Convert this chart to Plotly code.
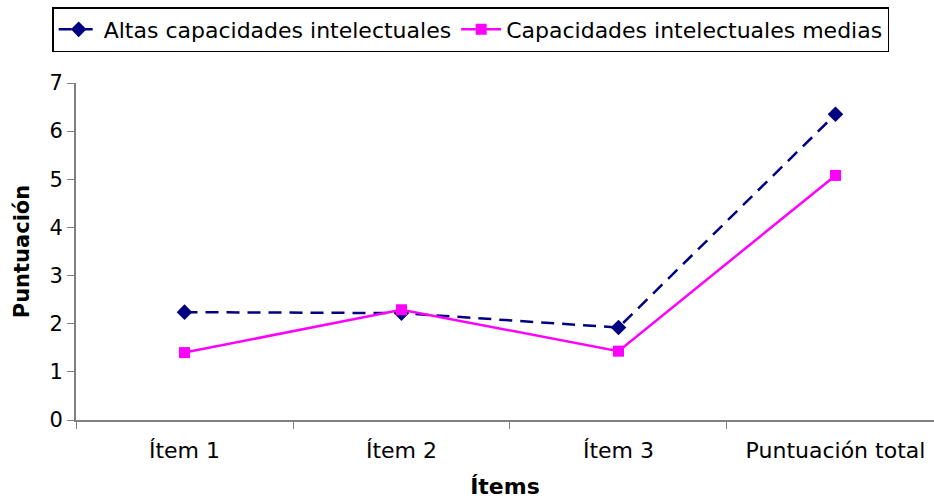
import plotly.graph_objects as go

categories = ["Ítem 1", "Ítem 2", "Ítem 3", "Puntuación total"]
altas = [2.24, 2.22, 1.92, 6.35]
medias = [1.40, 2.29, 1.43, 5.08]

FONT = "Verdana, DejaVu Sans, sans-serif"

fig = go.Figure()
fig.add_trace(go.Scatter(
    x=categories, y=altas, name="Altas capacidades intelectuales",
    mode="lines+markers",
    line=dict(color="#000080", width=2.5, dash="13px,8px"),
    marker=dict(symbol="diamond", size=12, color="#000080"),
))
fig.add_trace(go.Scatter(
    x=categories, y=medias, name="Capacidades intelectuales medias",
    mode="lines+markers",
    line=dict(color="#FF00FF", width=2.5),
    marker=dict(symbol="square", size=11, color="#FF00FF"),
))

fig.update_layout(
    width=934, height=502,
    margin=dict(l=76, r=0, t=83, b=82, autoexpand=False),
    plot_bgcolor="white", paper_bgcolor="white",
    font=dict(family=FONT, size=21, color="black"),
    showlegend=True,
    legend=dict(
        orientation="h", x=0.46, xanchor="center",
        yref="container", y=0.986, yanchor="top",
        bordercolor="black", borderwidth=1.5,
        font=dict(family=FONT, size=22, color="black"),
        itemwidth=40, tracegroupgap=0,
    ),
)
fig.update_xaxes(
    type="category", range=[-0.5, 3.454],
    showline=True, linecolor="#808080", linewidth=2,
    ticks="outside", tickson="boundaries", ticklen=7, tickcolor="#808080",
    showgrid=False, zeroline=False,
    ticklabelstandoff=10,
    tickfont=dict(family=FONT, size=22),
    title=dict(text="<b>Ítems</b>", font=dict(family=FONT, size=22), standoff=16),
)
fig.update_yaxes(
    range=[0, 7], dtick=1,
    showline=True, linecolor="#808080", linewidth=2,
    ticks="outside", ticklen=7, tickcolor="#808080",
    showgrid=False, zeroline=False,
    tickfont=dict(family=FONT, size=21),
    title=dict(text="<b>Puntuación</b>", font=dict(family=FONT, size=21), standoff=14),
)

fig.write_html("out.html")
